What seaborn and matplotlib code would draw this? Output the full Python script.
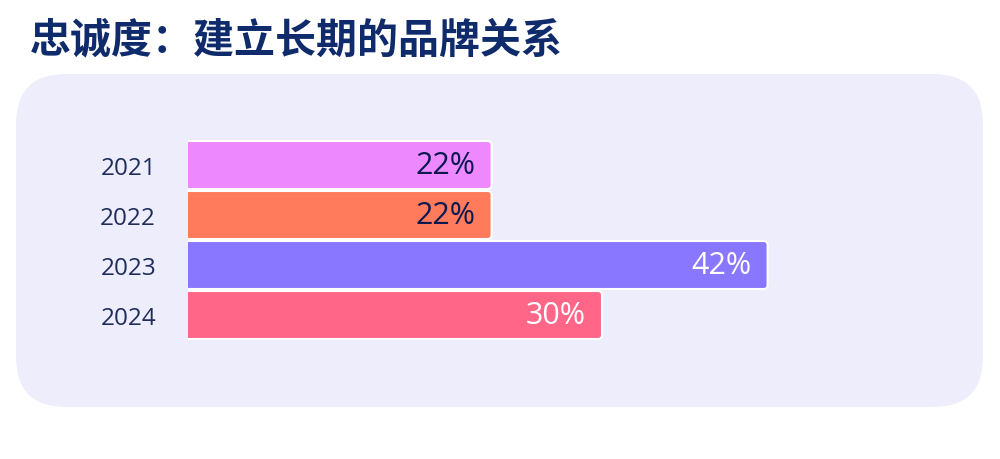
import matplotlib
matplotlib.use("Agg")
import matplotlib.pyplot as plt
import seaborn as sns
import pandas as pd
from matplotlib.patches import FancyBboxPatch

# data
years = ["2021", "2022", "2023", "2024"]
loyalty = [22, 22, 42, 30]
bar_colors = ["#EE88FF", "#FF7B5C", "#8A77FF", "#FF6688"]
label_colors = ["#0A1A50", "#0A1A50", "#FFFFFF", "#FFFFFF"]
title = "忠诚度：建立长期的品牌关系"

sns.set_style("white")
plt.rcParams["font.family"] = ["Open Sans", "Noto Sans CJK SC", "DejaVu Sans"]

df = pd.DataFrame({"year": years, "value": loyalty})

fig = plt.figure(figsize=(10, 4.6), dpi=100)
fig.patch.set_facecolor("white")

# rounded lavender panel behind the chart
panel = FancyBboxPatch((0.16, 0.52), 9.67, 3.33,
                       boxstyle="round,pad=0,rounding_size=0.5",
                       transform=fig.dpi_scale_trans,
                       facecolor="#EEEDFC", edgecolor="none", zorder=-5)
fig.patches.append(panel)

fig.text(0.03, 0.913, title, fontsize=29.5, fontweight="black",
         color="#0F2B6B", family=["Noto Sans CJK SC", "DejaVu Sans"],
         ha="left", va="center")

ax = fig.add_axes([0.188, 1 - 341 / 460, 0.69, 200 / 460])
ax.set_zorder(2)
ax.set_facecolor("none")

sns.barplot(data=df, y="year", x="value", hue="year", palette=bar_colors,
            orient="h", width=0.96, legend=False, ax=ax)

ax.set_xlim(0, 50)
ax.set_ylim(3.5, -0.5)

# swap the plain rectangles for bars with rounded right corners
rx = 0.3
ry = 0.08
for patch, col in zip(list(ax.patches), bar_colors):
    x0, y0 = patch.get_x(), patch.get_y()
    w, h = patch.get_width(), patch.get_height()
    patch.remove()
    rb = FancyBboxPatch((x0 - 1, y0), w + 1, h,
                        boxstyle=f"round,pad=0,rounding_size={rx}",
                        mutation_aspect=ry / rx,
                        facecolor=col, edgecolor="white", linewidth=1.5,
                        zorder=2)
    ax.add_patch(rb)

for i, (v, c) in enumerate(zip(loyalty, label_colors)):
    ax.annotate(f"{v}%", xy=(v, i), xytext=(-11.5, 0), textcoords="offset points",
                ha="right", va="center", fontsize=22, color=c, zorder=3)

ax.set_xlabel("")
ax.set_ylabel("")
ax.set_xticks([])
ax.tick_params(axis="y", length=0, pad=23, labelsize=17.5, labelcolor="#1F2D5A")
sns.despine(ax=ax, left=True, bottom=True)

fig.savefig("out.png", dpi=100)
